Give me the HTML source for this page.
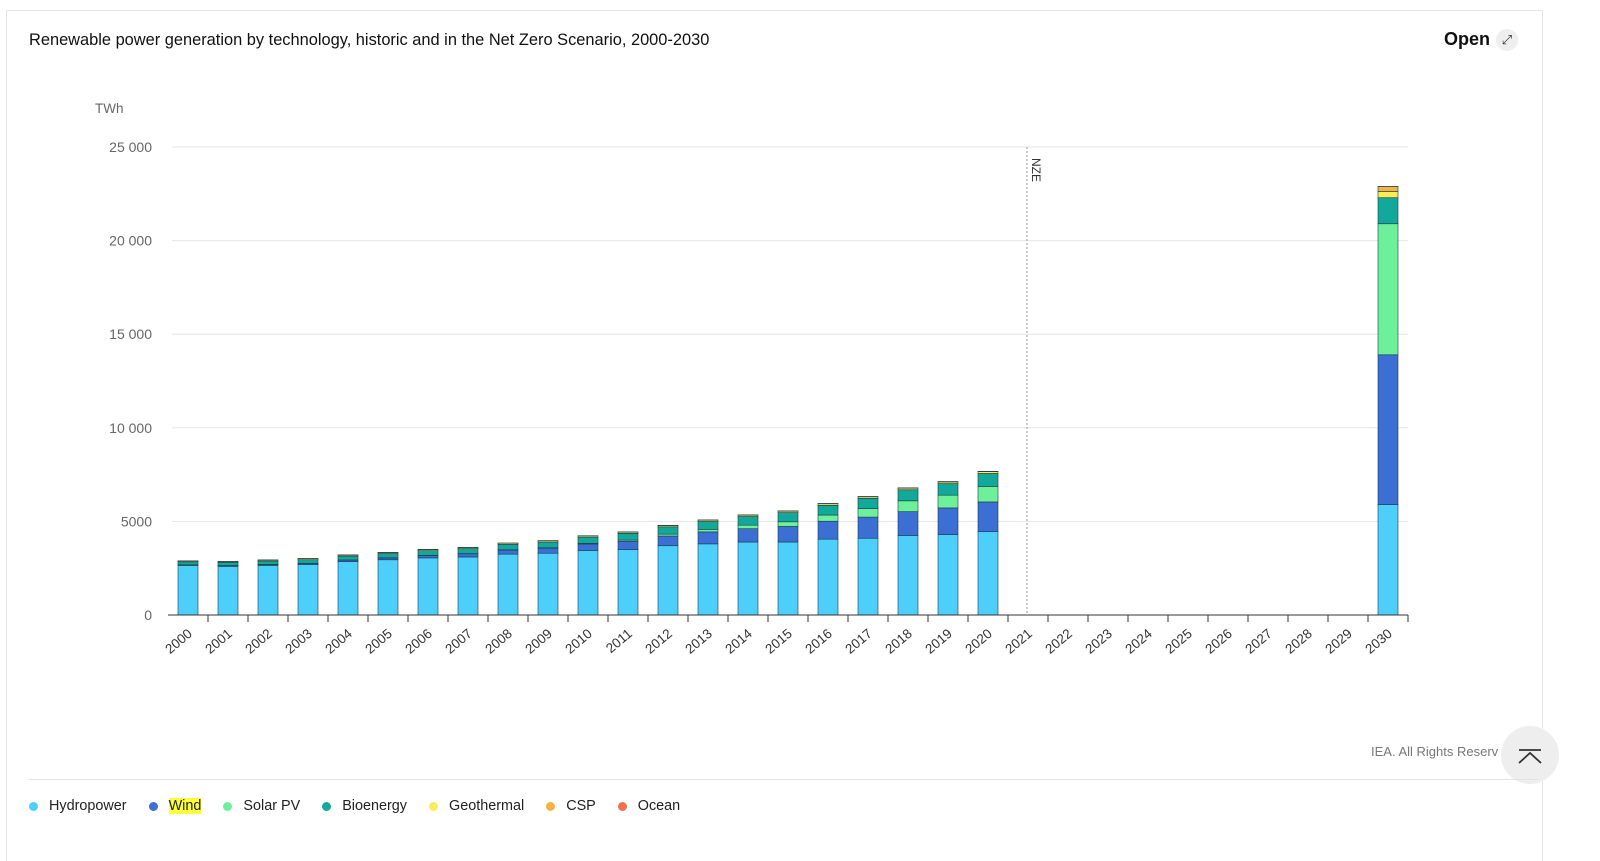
<!DOCTYPE html>
<html><head><meta charset="utf-8"><style>
body{margin:0;width:1600px;height:846px;background:#fff;font-family:"Liberation Sans",sans-serif;overflow:hidden;position:relative}
.card{position:absolute;left:6px;top:10px;width:1535px;height:850px;border:1px solid #e6e6e6;border-bottom:none}
.title{position:absolute;left:29px;top:31px;font-size:16.4px;color:#111;font-weight:500}
.open{position:absolute;left:1444px;top:29px;font-size:18px;font-weight:bold;color:#111}
.openic{position:absolute;left:1496px;top:29px;width:22px;height:22px;border-radius:50%;background:#eee;font-size:13px;text-align:center;line-height:22px;color:#333}
.credit{position:absolute;left:1371px;top:744px;font-size:13px;color:#777}
.top{position:absolute;left:1501px;top:726px;width:58px;height:58px;border-radius:50%;background:#eee}
.sep{position:absolute;left:29px;top:779px;width:1510px;height:1px;background:#e3e3e3}
.legend{position:absolute;left:29px;top:798px;font-size:14.4px;color:#222;display:flex}
.li{display:flex;align-items:center;margin-right:22px}
.dot{width:9px;height:9px;border-radius:50%;margin-right:11px}
</style></head><body>
<div class="card"></div>
<div class="title">Renewable power generation by technology, historic and in the Net Zero Scenario, 2000-2030</div>
<div class="open">Open</div>
<div class="openic">⤢</div>
<svg id="chart" width="1600" height="846" style="position:absolute;left:0;top:0"></svg>
<div class="credit">IEA. All Rights Reserv</div>
<div class="top"><svg width="58" height="58"><path d="M18 24h22M18 37l11-10 11 10" stroke="#333" stroke-width="1.8" fill="none"/></svg></div>
<div class="sep"></div>
<div class="legend">
<div class="li"><span class="dot" style="background:#4dcffb"></span>Hydropower</div>
<div class="li"><span class="dot" style="background:#3b6fd4"></span><span style="background:#ffff3a">Wind</span></div>
<div class="li"><span class="dot" style="background:#6ef09a"></span>Solar PV</div>
<div class="li"><span class="dot" style="background:#12a89a"></span>Bioenergy</div>
<div class="li"><span class="dot" style="background:#f8ec5a"></span>Geothermal</div>
<div class="li"><span class="dot" style="background:#f5b342"></span>CSP</div>
<div class="li"><span class="dot" style="background:#f07050"></span>Ocean</div>
</div>
<script>
const years=[2000,2001,2002,2003,2004,2005,2006,2007,2008,2009,2010,2011,2012,2013,2014,2015,2016,2017,2018,2019,2020,2021,2022,2023,2024,2025,2026,2027,2028,2029,2030];
const hydro=[2650,2600,2650,2700,2850,2950,3050,3100,3250,3300,3450,3500,3700,3800,3900,3900,4050,4100,4250,4300,4450,null,null,null,null,null,null,null,null,null,5900];
const wind=[30,40,50,60,85,100,130,170,220,270,340,440,520,640,710,830,960,1130,1270,1420,1590,null,null,null,null,null,null,null,null,null,8000];
const solar=[1,2,2,3,3,4,6,8,12,20,32,63,100,135,190,250,330,450,580,680,830,null,null,null,null,null,null,null,null,null,7000];
const bio=[160,170,180,190,210,230,250,270,290,310,340,360,390,420,460,490,520,550,590,620,690,null,null,null,null,null,null,null,null,null,1390];
const geo=[52,53,55,57,58,60,62,63,65,67,68,70,72,73,75,80,82,84,88,90,95,null,null,null,null,null,null,null,null,null,330];
const csp=[1,1,1,1,1,1,1,1,2,2,2,4,5,6,8,9,11,12,13,14,14,null,null,null,null,null,null,null,null,null,260];
const ocean=[1,1,1,1,1,1,1,1,1,1,1,1,1,1,1,1,1,1,1,1,1,null,null,null,null,null,null,null,null,null,10];
const yTicks=[0,5000,10000,15000,20000,25000];
const yTickLabels=["0","5000","10 000","15 000","20 000","25 000"];
const series=[[hydro,"#4dcffb","hydropower"],[wind,"#3b6fd4","wind"],[solar,"#6ef09a","solar-pv"],[bio,"#12a89a","bioenergy"],[geo,"#f8ec5a","geothermal"],[csp,"#f5b342","csp"],[ocean,"#f07050","ocean"]];
const svg=document.getElementById('chart');const NS='http://www.w3.org/2000/svg';
const x0=168,bw=40,y0=615,ymax=25000,ph=468;
const y=v=>y0-v/ymax*ph;const xc=i=>x0+(i+0.5)*bw;
function mk(t,a){const e=document.createElementNS(NS,t);for(const k in a)e.setAttribute(k,a[k]);svg.appendChild(e);return e;}
let t=mk('text',{x:95,y:113,'font-size':13.5,fill:'#666','font-family':'Liberation Sans'});t.textContent='TWh';


yTicks.forEach((v,i)=>{
 if(v>0){const g=mk('line',{x1:172,x2:1408,y1:y(v),y2:y(v),stroke:'#e6e6e6'});
 
 }
 const l=mk('text',{x:152,y:y(v)+5,'text-anchor':'end','font-size':14,fill:'#666','font-family':'Liberation Sans'});l.textContent=yTickLabels[i];
 
 
});
years.forEach((yr,i)=>{
 let acc=0;
 series.forEach(s=>{const v=s[0][i];if(v==null)return;
  const r=mk('rect',{x:xc(i)-10,width:20,y:y(acc+v),height:v/ymax*ph,fill:s[1],stroke:'#1b3a4a','stroke-width':0.6});
  
  
  acc+=v;});
 const tk=mk('line',{x1:x0+(i+1)*bw,x2:x0+(i+1)*bw,y1:y0,y2:y0+7,stroke:'#333'});
 
 
 const l=mk('text',{x:xc(i)+5,y:y0+20,'text-anchor':'end','font-size':13.5,fill:'#333','font-family':'Liberation Sans',transform:`rotate(-40 ${xc(i)+5} ${y0+20})`});l.textContent=yr;
 
 
});
const ax=mk('line',{x1:x0,x2:1408,y1:y0,y2:y0,stroke:'#333'});


const nzeX=xc(years.indexOf(2021))-1;
const nz=mk('line',{x1:nzeX,x2:nzeX,y1:147,y2:y0,stroke:'#999','stroke-dasharray':'2,2'});


const nl=mk('text',{x:nzeX+5,y:158,'font-size':12,fill:'#333','font-family':'Liberation Sans',transform:`rotate(90 ${nzeX+5} 158)`});nl.textContent='NZE';


</script>
</body></html>
